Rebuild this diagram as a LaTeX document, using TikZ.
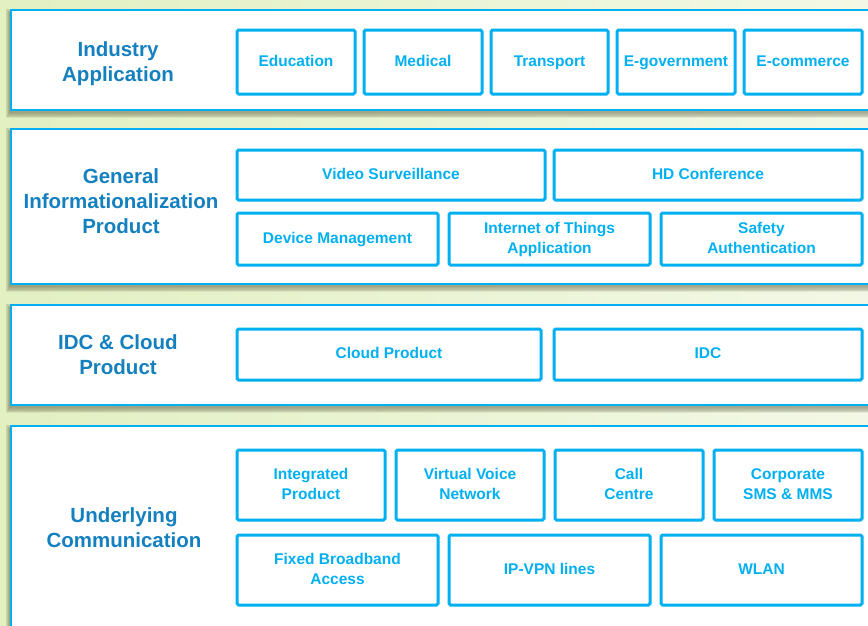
\documentclass[tikz,border=0pt]{standalone}
\usepackage{fontspec}
\setmainfont{Liberation Sans}
\definecolor{skyline}{HTML}{00B0F0}
\definecolor{titleblue}{HTML}{1580BF}
\definecolor{bgleft}{HTML}{E2F0C2}
\definecolor{bgright}{HTML}{F3F8E6}
\definecolor{shadeolive}{HTML}{5A5A3C}
\tikzset{
  panel/.style={draw=skyline, line width=2pt, fill=white, rectangle, inner sep=0pt,
    minimum width=880pt, anchor=north west},
  softshadow/.style={fill=shadeolive, fill opacity=0.09, draw=none},
  layertitle/.style={text=titleblue, font=\fontsize{20.5}{25}\selectfont\bfseries, align=center},
  item/.style={draw=skyline, line width=3pt, rounded corners=1.5pt, fill=white,
    text=skyline, font=\fontsize{15.5}{20}\selectfont\bfseries, align=center, inner sep=0pt},
}
% layer panel with a soft shadow: name, left, top, height
\newcommand{\layerpanel}[4]{%
  \foreach \g in {7,6,...,1}{
    \fill[softshadow] (#2-\g*0.6,#3+4-\g*0.6) rectangle (#2+880,#3+#4+3+\g*0.9);
  }
  \node[panel, minimum height=#4pt] (#1) at (#2,#3) {};}
% boxed entry: name, cx, cy, w, h, text (struts keep the lines evenly centred)
\newcommand{\itembox}[6]{%
  \node[item, minimum width=#4pt, minimum height=#5pt] (#1) at (#2,#3) {\strut #6\strut};}
\begin{document}
\begin{tikzpicture}[x=1pt,y=-1pt]
  % page background
  \shade[left color=bgleft, right color=bgright] (0,0) rectangle (868,625);
  \useasboundingbox (0,0) rectangle (868,625);

  % layer panels (they run past the right and bottom edges)
  \layerpanel{p1}{10}{9}{100}
  \layerpanel{p2}{10}{128}{155}
  \layerpanel{p3}{10}{304}{100}
  \layerpanel{p4}{10}{425}{230}

  % layer titles
  \node[layertitle] (t1) at (118,63.5) {\strut Industry\\Application\strut};
  \node[layertitle] (t2) at (121,203.5) {\strut General\\Informationalization\\Product\strut};
  \node[layertitle] (t3) at (118,356.5) {\strut IDC \& Cloud\\Product\strut};
  \node[layertitle] (t4) at (124,530) {\strut Underlying\\Communication\strut};

  % industry applications
  \itembox{edu}{296}{62}{118}{64}{Education}
  \itembox{med}{423}{62}{118}{64}{Medical}
  \itembox{trans}{549.5}{62}{117}{64}{Transport}
  \itembox{egov}{676}{62}{118}{64}{E-government}
  \itembox{ecom}{803}{62}{118}{64}{E-commerce}

  % general informationalization products
  \itembox{video}{391}{175}{308}{50}{Video Surveillance}
  \itembox{hd}{708}{175}{308}{50}{HD Conference}
  \itembox{dev}{337.5}{239}{201}{52}{Device Management}
  \itembox{iot}{549.5}{239}{201}{52}{Internet of Things\\Application}
  \itembox{safe}{761.5}{239}{201}{52}{Safety\\Authentication}

  % IDC and cloud
  \itembox{cloud}{389}{354.5}{304}{51}{Cloud Product}
  \itembox{idc}{708}{354.5}{308}{51}{IDC}

  % underlying communication
  \itembox{integ}{311}{485}{148}{70}{Integrated\\Product}
  \itembox{voice}{470}{485}{148}{70}{Virtual Voice\\Network}
  \itembox{call}{629}{485}{148}{70}{Call\\Centre}
  \itembox{sms}{788}{485}{148}{70}{Corporate\\SMS \& MMS}
  \itembox{fixed}{337.5}{570}{201}{70}{Fixed Broadband\\Access}
  \itembox{vpn}{549.5}{570}{201}{70}{IP-VPN lines}
  \itembox{wlan}{761.5}{570}{201}{70}{WLAN}
\end{tikzpicture}
\end{document}
